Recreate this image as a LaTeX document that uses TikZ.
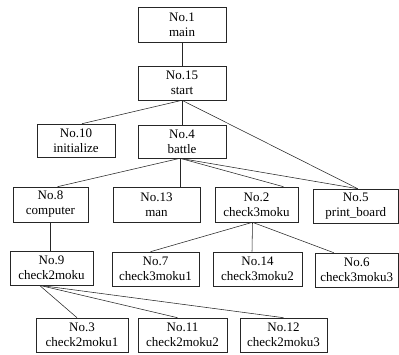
\documentclass[tikz,border=0pt]{standalone}
\usepackage{fontspec}
\setmainfont{Liberation Serif}
\begin{document}
\begin{tikzpicture}[x=1pt,y=-1pt,
  box/.style={draw=black!85, line width=0.6pt, align=center, inner sep=0pt,
    minimum height=34pt, font=\fontsize{13}{15}\selectfont},
  link/.style={line width=0.55pt, draw=black!85}]
\useasboundingbox (0,0) rectangle (399,354);
% level 1-2
\node[box, minimum width=88pt, minimum height=35pt] (main) at (182,24.5) {No.1\\main};
\node[box, minimum width=88pt] (start) at (182,83) {No.15\\start};
% level 3
\node[box, minimum width=78pt, minimum height=33pt] (init) at (76,140.5) {No.10\\initialize};
\node[box, minimum width=88pt, minimum height=33pt] (battle) at (182,141.5) {No.4\\battle};
% level 4
\node[box, minimum width=75pt, minimum height=35pt] (comp) at (50.5,204.5) {No.8\\computer};
\node[box, minimum width=87pt, minimum height=35pt] (man) at (156.5,204.5) {No.13\\man};
\node[box, minimum width=83pt, minimum height=35pt] (c3) at (256.5,204.5) {No.2\\check3moku};
\node[box, minimum width=85pt] (pb) at (355.75,206) {No.5\\print\_board};
% level 5
\node[box, minimum width=83pt] (c2) at (51.5,268) {No.9\\check2moku};
\node[box, minimum width=87pt] (c31) at (155.5,269) {No.7\\check3moku1};
\node[box, minimum width=89pt] (c32) at (257.5,269) {No.14\\check3moku2};
\node[box, minimum width=83pt] (c33) at (356.75,270) {No.6\\check3moku3};
% level 6
\node[box, minimum width=92pt] (c21) at (82,335) {No.3\\check2moku1};
\node[box, minimum width=89pt] (c22) at (182.5,335) {No.11\\check2moku2};
\node[box, minimum width=87pt] (c23) at (283.5,335) {No.12\\check2moku3};
% connectors
\draw[link] (main) -- (start);
\draw[link] (start.south) -- ([xshift=6]init.north);
\draw[link] (start.south) -- (battle.north);
\draw[link] (start.south) -- ([xshift=2]pb.north);
\draw[link] ([xshift=-2]battle.south) -- ([xshift=7]comp.north);
\draw[link] ([xshift=-2]battle.south) -- ([xshift=23.5]man.north);
\draw[link] ([xshift=-2]battle.south) -- ([xshift=27]c3.north);
\draw[link] ([xshift=-2]battle.south) -- ([xshift=2]pb.north);
\draw[link] (comp.south) -- (comp.south |- c2.north);
\draw[link] ([xshift=-4]c3.south) -- ([xshift=-5]c31.north);
\draw[link] ([xshift=-4]c3.south) -- ([xshift=-5.5]c32.north);
\draw[link] ([xshift=-4]c3.south) -- ([xshift=-23]c33.north);
\draw[link] ([xshift=-12]c2.south) -- ([xshift=-5]c21.north);
\draw[link] ([xshift=-12]c2.south) -- ([xshift=-5]c22.north);
\draw[link] ([xshift=-12]c2.south) -- (c23.north);
\end{tikzpicture}
\end{document}
